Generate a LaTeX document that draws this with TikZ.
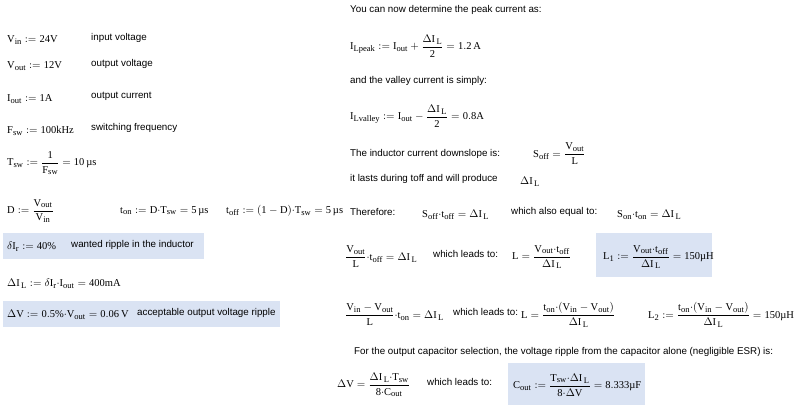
\documentclass[tikz,border=0pt]{standalone}
\usepackage{amsmath}
\usepackage{fontspec}
\setmainfont{Liberation Serif}
\setsansfont{Liberation Sans}
\setmathrm{Liberation Serif}
\DeclareMathSizes{10.5}{10.5}{8.5}{7}
\newcommand{\mr}[1]{\mathrm{#1}}
\newcommand{\dIL}{\Delta\mr{I}_{\,\mr{L}}}
\newcommand{\us}{\,\text{µs}}
\newcommand{\md}{{\cdot}}
\begin{document}
\begin{tikzpicture}[x=1pt,y=-1pt,
  eq/.style={anchor=west,inner sep=0pt,font=\fontsize{10.5}{13}\selectfont},
  txt/.style={anchor=west,inner sep=0pt,font=\sffamily\fontsize{9.8}{12}\selectfont}]
\useasboundingbox (0,0) rectangle (800,413);
\definecolor{hlc}{RGB}{218,227,243}
\fill[hlc] (3,233) rectangle (204,259);
\fill[hlc] (3,301) rectangle (280,327);
\fill[hlc] (596,233) rectangle (712,277);
\fill[hlc] (508,363) rectangle (645,405);
% left column
\node[eq] (vin) at (7,40) {$\mr{V}_{\mr{in}}\mathrel{:=}\mr{24V}$};
\node[txt] (tvin) at (91,38) {input voltage};
\node[eq] (vout) at (7,66) {$\mr{V}_{\mr{out}}\mathrel{:=}\mr{12V}$};
\node[txt] (tvout) at (91,64) {output voltage};
\node[eq] (iout) at (7,99) {$\mr{I}_{\mr{out}}\mathrel{:=}\mr{1A}$};
\node[txt] (tiout) at (91,96) {output current};
\node[eq] (fsw) at (7,131) {$\mr{F}_{\mr{sw}}\mathrel{:=}\mr{100kHz}$};
\node[txt] (tfsw) at (91,128) {switching frequency};
\node[eq] (tsw) at (7,163) {$\mr{T}_{\mr{sw}}\mathrel{:=}\dfrac{\mr{1}}{\mr{F}_{\mr{sw}}}=\mr{10}\us$};
\node[eq] (d) at (7,211) {$\mr{D}\mathrel{:=}\dfrac{\mr{V}_{\mr{out}}}{\mr{V}_{\mr{in}}}$};
\node[eq] (ton) at (120,211) {$\mr{t}_{\mr{on}}\mathrel{:=}\mr{D}\md\mr{T}_{\mr{sw}}=\mr{5}\us$};
\node[eq] (toff) at (226,211) {$\mr{t}_{\mr{off}}\mathrel{:=}(\mr{1}-\mr{D})\md\mr{T}_{\mr{sw}}=\mr{5}\us$};
\node[eq] (dir) at (7,247) {$\delta\mr{I}_{\mr{r}}\mathrel{:=}\mr{40\%}$};
\node[txt] (tdir) at (71,245) {wanted ripple in the inductor};
\node[eq] (dil) at (7,284) {$\dIL\mathrel{:=}\delta\mr{I}_{\mr{r}}\md\mr{I}_{\mr{out}}=\mr{400mA}$};
\node[eq] (dv) at (7,315) {$\Delta\mr{V}\mathrel{:=}\mr{0.5\%}\md\mr{V}_{\mr{out}}=\mr{0.06\,V}$};
\node[txt] (tdv) at (137,313) {acceptable output voltage ripple};
% right column
\node[txt] (r1) at (350,10) {You can now determine the peak current as:};
\node[eq] (ipk) at (350,46) {$\mr{I}_{\mr{Lpeak}}\mathrel{:=}\mr{I}_{\mr{out}}+\dfrac{\dIL}{\mr{2}}=\mr{1.2\,A}$};
\node[txt] (r2) at (350,81) {and the valley current is simply:};
\node[eq] (ival) at (350,116) {$\mr{I}_{\mr{Lvalley}}\mathrel{:=}\mr{I}_{\mr{out}}-\dfrac{\dIL}{\mr{2}}=\mr{0.8A}$};
\node[txt] (r3) at (350,154) {The inductor current downslope is:};
\node[eq] (soff) at (533,154) {$\mr{S}_{\mr{off}}=\dfrac{\mr{V}_{\mr{out}}}{\mr{L}}$};
\node[txt] (r4) at (350,179) {it lasts during toff and will produce};
\node[eq] (dil2) at (520,182) {$\dIL$};
\node[txt] (r5) at (350,212) {Therefore:};
\node[eq] (e1) at (422,215) {$\mr{S}_{\mr{off}}\md\mr{t}_{\mr{off}}=\dIL$};
\node[txt] (r6) at (511,212) {which also equal to:};
\node[eq] (e2) at (617,215) {$\mr{S}_{\mr{on}}\md\mr{t}_{\mr{on}}=\dIL$};
\node[eq] (e3) at (345,257) {$\dfrac{\mr{V}_{\mr{out}}}{\mr{L}}\md\mr{t}_{\mr{off}}=\dIL$};
\node[txt] (r7) at (433,254) {which leads to:};
\node[eq] (e4) at (512,257) {$\mr{L}=\dfrac{\mr{V}_{\mr{out}}\md\mr{t}_{\mr{off}}}{\dIL}$};
\node[eq] (e5) at (603,257) {$\mr{L}_{\mr{1}}\mathrel{:=}\dfrac{\mr{V}_{\mr{out}}\md\mr{t}_{\mr{off}}}{\dIL}=\mr{150}\text{µH}$};
\node[eq] (e6) at (345,315) {$\dfrac{\mr{V}_{\mr{in}}-\mr{V}_{\mr{out}}}{\mr{L}}\md\mr{t}_{\mr{on}}=\dIL$};
\node[txt] (r8) at (453,312) {which leads to:};
\node[eq] (e7) at (521,315) {$\mr{L}=\dfrac{\mr{t}_{\mr{on}}\md(\mr{V}_{\mr{in}}-\mr{V}_{\mr{out}})}{\dIL}$};
\node[eq] (e8) at (648,315) {$\mr{L}_{\mr{2}}\mathrel{:=}\dfrac{\mr{t}_{\mr{on}}\md(\mr{V}_{\mr{in}}-\mr{V}_{\mr{out}})}{\dIL}=\mr{150}\text{µH}$};
\node[txt] (r9) at (354,352) {For the output capacitor selection, the voltage ripple from the capacitor alone (negligible ESR) is:};
\node[eq] (e9) at (337,385) {$\Delta\mr{V}=\dfrac{\dIL\md\mr{T}_{\mr{sw}}}{\mr{8}\md\mr{C}_{\mr{out}}}$};
\node[txt] (r10) at (427,382) {which leads to:};
\node[eq] (e10) at (513,385) {$\mr{C}_{\mr{out}}\mathrel{:=}\dfrac{\mr{T}_{\mr{sw}}\md\dIL}{\mr{8}\md\Delta\mr{V}}=\mr{8.333}\text{µF}$};
\end{tikzpicture}
\end{document}
